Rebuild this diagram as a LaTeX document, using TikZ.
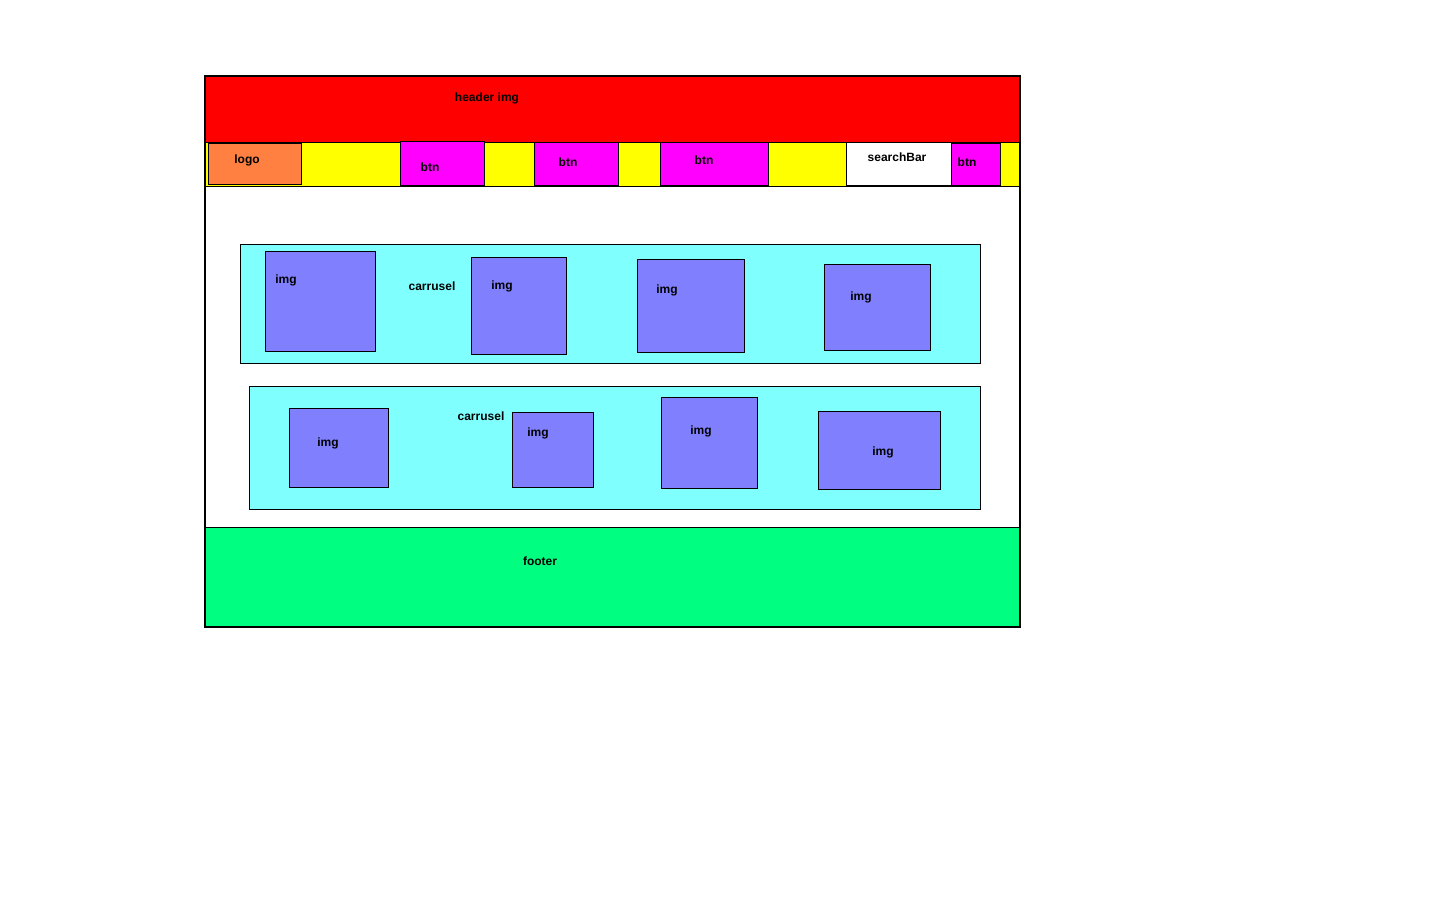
\documentclass[tikz,border=0pt]{standalone}
\usepackage{fontspec}
\setmainfont{Liberation Sans}
\usepackage{tikz}
\definecolor{hdrred}{HTML}{FF0000}
\definecolor{navyel}{HTML}{FFFF00}
\definecolor{logoorg}{HTML}{FF8040}
\definecolor{btnmag}{HTML}{FF00FF}
\definecolor{carcyan}{HTML}{80FFFF}
\definecolor{imgblue}{HTML}{8080FF}
\definecolor{footgrn}{HTML}{00FF80}
\tikzset{
	lbl/.style={font=\fontsize{12}{14}\selectfont\bfseries, inner sep=0pt},
	box/.style={draw=black, line width=1pt}
}

\begin{document}
\begin{tikzpicture}[x=1pt, y=-1pt]
			%%%%% START %%%%%
			\useasboundingbox (0, 0) rectangle (1440, 900);
			
			\draw[fill=white, line width=2pt] (205, 76) rectangle (1020, 627);
			
			\draw[box, fill=hdrred] (205, 76) rectangle (1020, 142);
			\node[lbl] (headerimg) at (487, 98) {header img};
			
			\draw[box, fill=navyel] (205, 142) rectangle (1020, 186);
			\draw[box, fill=logoorg] (208, 143) rectangle (301, 184);
			\node[lbl] (logo) at (247, 160) {logo};
			
			\draw[box, fill=btnmag] (400, 141) rectangle (484, 185);
			\node[lbl] (btna) at (430, 167) {btn};
			\draw[box, fill=btnmag] (534, 142) rectangle (618, 185);
			\node[lbl] (btnb) at (568, 162) {btn};
			\draw[box, fill=btnmag] (660, 142) rectangle (768, 185);
			\node[lbl] (btnc) at (704, 160) {btn};
			\draw[box, fill=white] (846, 142) rectangle (951, 185);
			\node[lbl] (search) at (897, 157) {searchBar};
			\draw[box, fill=btnmag] (951, 143) rectangle (1000, 185);
			\node[lbl] (btnd) at (967, 162) {btn};
			
			\draw[box, fill=carcyan] (240, 244) rectangle (980, 363);
			\node[lbl] (carrusela) at (432, 286) {carrusel};
			\draw[box, fill=imgblue] (265, 251) rectangle (375, 351);
			\node[lbl] (imga) at (286, 280) {img};
			\draw[box, fill=imgblue] (471, 257) rectangle (566, 354);
			\node[lbl] (imgb) at (502, 286) {img};
			\draw[box, fill=imgblue] (637, 259) rectangle (744, 352);
			\node[lbl] (imgc) at (667, 290) {img};
			\draw[box, fill=imgblue] (824, 264) rectangle (930, 350);
			\node[lbl] (imgd) at (861, 297) {img};
			
			\draw[box, fill=carcyan] (249, 386) rectangle (980, 509);
			\node[lbl] (carruselb) at (481, 416) {carrusel};
			\draw[box, fill=imgblue] (289, 408) rectangle (388, 487);
			\node[lbl] (imge) at (328, 443) {img};
			\draw[box, fill=imgblue] (512, 412) rectangle (593, 487);
			\node[lbl] (imgf) at (538, 433) {img};
			\draw[box, fill=imgblue] (661, 397) rectangle (757, 488);
			\node[lbl] (imgg) at (701, 431) {img};
			\draw[box, fill=imgblue] (818, 411) rectangle (940, 489);
			\node[lbl] (imgh) at (883, 452) {img};
			
			\draw[box, fill=footgrn] (205, 527) rectangle (1020, 627);
			\node[lbl] (footer) at (540, 561) {footer};
			
			\draw[line width=2pt] (205, 76) rectangle (1020, 627);
			%%%%% END %%%%%
\end{tikzpicture}
\end{document}
